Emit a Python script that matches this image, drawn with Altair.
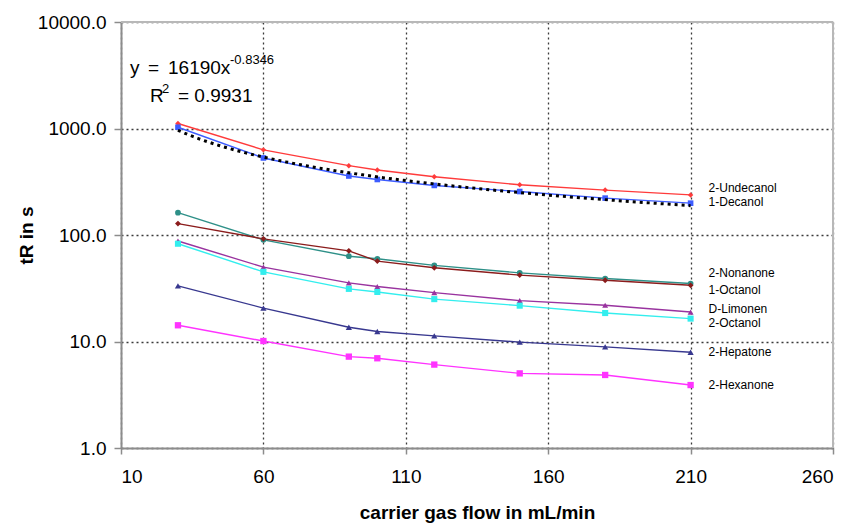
import altair as alt
import pandas as pd

# ---- data ----
flows = [30, 60, 90, 100, 120, 150, 180, 210]
names = ["2-Undecanol", "1-Decanol", "2-Nonanone", "1-Octanol",
         "D-Limonen", "2-Octanol", "2-Hepatone", "2-Hexanone"]
undecanol = [1115, 630, 448, 408, 352, 296, 264, 238]
decanol = [1028, 529, 358, 332, 292, 256, 222, 199]
nonanone = [162, 90, 63.2, 59.8, 51.8, 44.1, 39.0, 35.0]
octanol_1 = [128, 92, 71.0, 56.9, 49.2, 42.0, 37.6, 33.7]
limonen = [87.8, 49.9, 35.5, 32.8, 28.8, 24.2, 21.9, 18.9]
octanol_2 = [82.8, 45.1, 31.2, 29.2, 25.0, 21.7, 18.5, 16.4]
hepatone = [33.3, 20.6, 13.6, 12.4, 11.3, 9.86, 8.91, 7.93]
hexanone = [14.2, 10.1, 7.21, 6.96, 6.07, 5.02, 4.85, 3.90]
series = [undecanol, decanol, nonanone, octanol_1, limonen, octanol_2, hepatone, hexanone]

x_ticks = [10, 60, 110, 160, 210, 260]
y_ticks = [1, 10, 100, 1000, 10000]

# ---- styles ----
colors = ["#ff3b3b", "#3d5cff", "#2e9088", "#8b1c1c", "#99339f", "#33eeee", "#38388f", "#ff33ff"]
shapes = ["diamond", "square", "circle", "diamond", "triangle-up", "square", "triangle-up", "square"]
sizes = [30, 40, 30, 30, 45, 40, 45, 40]
label_dy = {"2-Undecanol": -7, "1-Decanol": -1, "2-Nonanone": -11, "1-Octanol": 5,
            "D-Limonen": -3, "2-Octanol": 4, "2-Hepatone": 0, "2-Hexanone": 0}
FONT = "Liberation Sans"
W, H = 712, 426

rows = [{"flow": f, "tR": v, "name": n}
        for n, vals in zip(names, series) for f, v in zip(flows, vals)]
df = pd.DataFrame(rows)

x_enc = alt.X("flow:Q",
              scale=alt.Scale(domain=[10, 260], nice=False, zero=False),
              axis=alt.Axis(values=x_ticks, title="carrier gas flow in mL/min",
                            labelFontSize=19, labelPadding=13, tickSize=6,
                            titleFontSize=19, titleFontWeight="bold",
                            titleY=70, titleBaseline="alphabetic",
                            gridDash=[2, 3], gridColor="#3a3a3a", gridWidth=1.3,
                            domainColor="#8c8c8c", domainWidth=2,
                            tickColor="#8c8c8c", tickWidth=1.5))
y_enc = alt.Y("tR:Q",
              scale=alt.Scale(type="log", domain=[1, 10000], nice=False),
              axis=alt.Axis(values=y_ticks, format=".1f", title="tR in s",
                            labelFontSize=19, labelPadding=8, tickSize=7,
                            titleFontSize=19, titleFontWeight="bold",
                            titleX=-89, titleY=H / 2, titleBaseline="alphabetic",
                            gridDash=[2, 3], gridColor="#3a3a3a", gridWidth=1.3,
                            domainColor="#8c8c8c", domainWidth=2,
                            tickColor="#8c8c8c", tickWidth=1.5))
color_enc = alt.Color("name:N", scale=alt.Scale(domain=names, range=colors), legend=None)

base = alt.Chart(df)
lines = base.mark_line(strokeWidth=1.4).encode(x=x_enc, y=y_enc, color=color_enc, detail="name:N")
points = base.mark_point(filled=True, opacity=1).encode(
    x=x_enc, y=y_enc, color=color_enc,
    shape=alt.Shape("name:N", scale=alt.Scale(domain=names, range=shapes), legend=None),
    size=alt.Size("name:N", scale=alt.Scale(domain=names, range=sizes), legend=None),
)

trend = base.transform_filter(alt.datum.name == "1-Decanol").transform_regression(
    "flow", "tR", method="pow"
).mark_line(color="black", strokeWidth=3, strokeDash=[3, 4]).encode(
    x=alt.X("flow:Q"), y=alt.Y("tR:Q")
)

last = df[df["flow"] == flows[-1]]
label_layers = []
for n in names:
    label_layers.append(
        alt.Chart(last[last["name"] == n]).mark_text(
            align="left", baseline="middle", dx=18, dy=label_dy[n],
            font=FONT, fontSize=12, color="black"
        ).encode(x=alt.X("flow:Q"), y=alt.Y("tR:Q"), text="name:N")
    )

one = pd.DataFrame({"k": [0]})
eq_parts = [
    ("y", 9, 52, 19), ("=", 27, 52, 19), ("16190x", 47, 52, 19), ("-0.8346", 109, 42, 13),
    ("R", 29, 80, 19), ("2", 41, 71, 13), ("= 0.9931", 57, 80, 19),
]
eq_layers = [
    alt.Chart(one).mark_text(text=t, x=px, y=py, fontSize=fs, font=FONT, align="left",
                             baseline="alphabetic", color="black")
    .encode(opacity=alt.value(1))
    for t, px, py, fs in eq_parts
]

frame_top = alt.Chart(one).mark_rule(color="#b8b8b8", strokeWidth=2).encode(
    x=alt.value(0), x2=alt.value(W), y=alt.value(0))
frame_right = alt.Chart(one).mark_rule(color="#b8b8b8", strokeWidth=2).encode(
    x=alt.value(W), y=alt.value(0), y2=alt.value(H))

chart = alt.layer(
    lines, points, trend, *label_layers, *eq_layers, frame_top, frame_right
).properties(
    width=W, height=H,
    autosize=alt.AutoSizeParams(type="none"),
    padding={"left": 113, "top": 14, "right": 21, "bottom": 75},
).configure_view(strokeWidth=0).configure_axis(
    labelFont=FONT, titleFont=FONT, labelColor="black", titleColor="black"
).configure(background="white")

chart.save("out.html", embed_options={"renderer": "svg", "actions": False})
